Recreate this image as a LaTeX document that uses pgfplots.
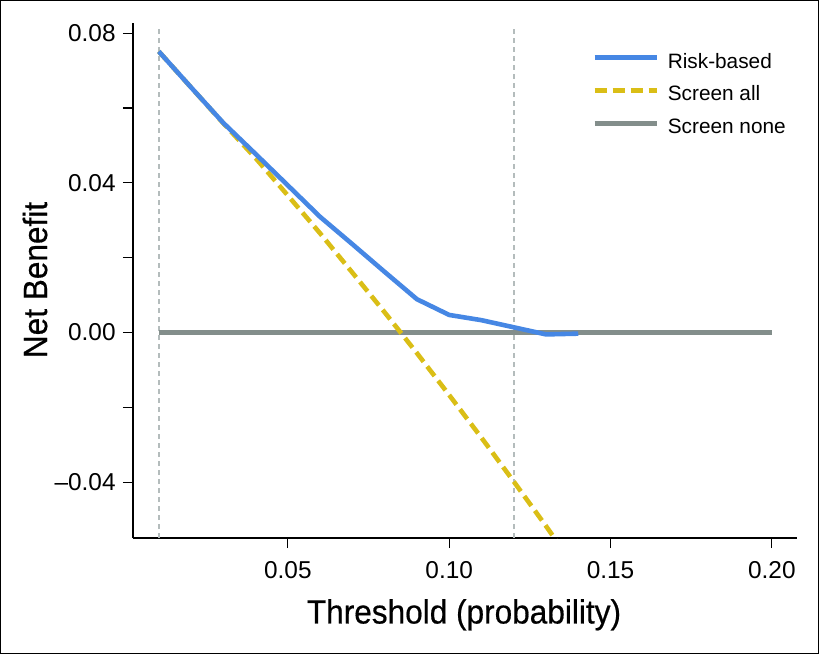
\documentclass[border=0pt]{standalone}
\usepackage{pgfplots}
\pgfplotsset{compat=1.18}
\usepackage{fontspec}
\setmainfont{Liberation Sans}
\newfontfamily\condfont[FakeStretch=0.94,FakeBold=0.5]{Liberation Sans}
\definecolor{riskblue}{RGB}{70,135,228}
\definecolor{scryellow}{RGB}{218,190,22}
\definecolor{nonegray}{RGB}{131,142,139}
\definecolor{refgray}{RGB}{180,188,188}
\begin{document}
\begin{tikzpicture}
\begin{axis}[
  scale only axis, width=332pt, height=257.5pt,
  xmin=0.002, xmax=0.2078, ymin=-0.0549, ymax=0.0827,
  scaled x ticks=false, scaled y ticks=false,
  axis lines=left, axis line style={-, line width=0.8pt, black},
  tick align=outside, major tick length=5pt,
  tick style={line width=0.6pt, black},
  xtick={0.05,0.10,0.15,0.20}, xticklabels={0.05,0.10,0.15,0.20},
  ytick={-0.04,-0.02,0,0.02,0.04,0.06,0.08},
  yticklabels={–0.04,,0.00,,0.04,,0.08},
  ticklabel style={font=\fontsize{12.2}{14}\selectfont},
  xticklabel style={anchor=base, yshift=-15pt},
  yticklabel style={anchor=east, inner sep=0pt, xshift=-3.5pt},
  xlabel={Threshold (probability)},
  ylabel={Net Benefit},
  label style={font=\condfont\fontsize{16.8}{18}\selectfont},
  xlabel style={at={(axis description cs:0.4985,-0.1660)}, anchor=base},
  ylabel style={at={(axis description cs:-0.1295,0.501)}, anchor=base},
  legend style={at={(axis description cs:0.691,0.942)}, anchor=north west,
    draw=none, fill=none, inner sep=0pt,
    font=\fontsize{10.4}{12}\selectfont, row sep=7pt,
    nodes={inner sep=0pt, text height=7.4pt, text depth=2pt}},
  legend cell align=left,
  legend image code/.code={\draw[#1] (0pt,2.5pt) -- (31pt,2.5pt);},
  every axis legend/.append style={column sep=4.5pt},
]
\addlegendimage{riskblue, line width=2.3pt}
\addlegendentry{Risk-based}
\addlegendimage{scryellow, line width=2.3pt, dash pattern=on 6pt off 3pt}
\addlegendentry{Screen all}
\addlegendimage{nonegray, line width=2.3pt}
\addlegendentry{Screen none}

\addplot[refgray, line width=0.9pt, dash pattern=on 2.5pt off 2pt, forget plot]
  coordinates {(0.01,-0.0549) (0.01,0.081)};
\addplot[refgray, line width=0.9pt, dash pattern=on 2.5pt off 2pt, forget plot]
  coordinates {(0.12,-0.0549) (0.12,0.081)};

\addplot[nonegray, line width=2.3pt, forget plot]
  coordinates {(0.01,0) (0.20,0)};

\addplot[scryellow, line width=2.3pt, dash pattern=on 6pt off 3pt, forget plot]
  coordinates {
  (0.01,0.0751) (0.02,0.0655) (0.03,0.0559) (0.04,0.0466) (0.05,0.0366)
  (0.06,0.0265) (0.07,0.0160) (0.08,0.0054) (0.09,-0.0055) (0.10,-0.0167)
  (0.11,-0.0281) (0.12,-0.0398) (0.13,-0.0517) (0.14,-0.0640)};

\addplot[riskblue, line width=2.3pt, line join=round, forget plot]
  coordinates {
  (0.01,0.0751) (0.02,0.0655) (0.03,0.0560) (0.04,0.0477) (0.05,0.0393)
  (0.06,0.0309) (0.07,0.0236) (0.08,0.0162) (0.09,0.0089) (0.10,0.0047)
  (0.11,0.0033) (0.12,0.0014) (0.13,-0.0005) (0.14,-0.0003)};
\end{axis}
\draw[line width=0.6pt] (-66.2pt,-57.7pt) rectangle (342.7pt,268.7pt);
\pgfresetboundingbox
\path (-66.5pt,-58pt) rectangle (343pt,269pt);
\end{tikzpicture}
\end{document}
